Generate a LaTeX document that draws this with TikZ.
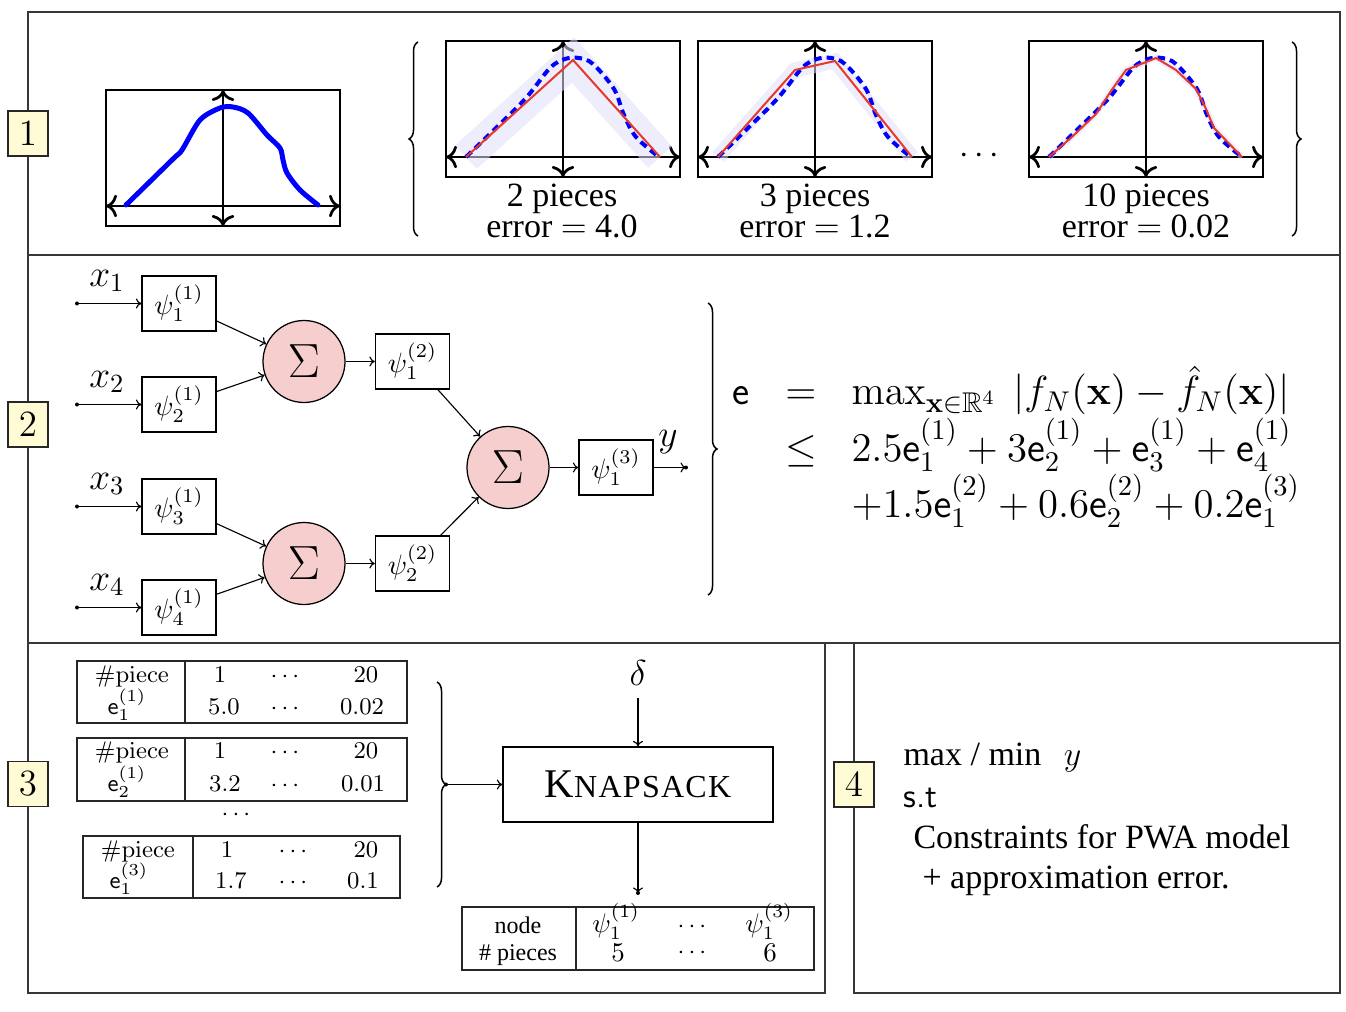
\RequirePackage{fix-cm}
\documentclass[tikz,border=0pt]{standalone}
\usepackage{amsmath,amssymb}
\usepackage[no-math]{fontspec}
\setmainfont{Liberation Serif}
\usetikzlibrary{arrows.meta,decorations.pathreplacing}
\definecolor{labelyellow}{RGB}{255,251,212}
\definecolor{sumpink}{RGB}{246,206,206}
\definecolor{bandcol}{RGB}{222,222,250}
\definecolor{pwared}{RGB}{232,56,43}
\definecolor{framegray}{RGB}{55,55,55}
\newcommand{\esf}{\mathsf{e}}
\newcommand{\plotframe}{%
  \draw[plotbox] (0,0) rectangle (234,136);
  \draw[plotaxis] (0,116) -- (234,116);
  \draw[plotaxis] (117,0) -- (117,136);}
\newcommand{\dashcurve}{%
  \draw[dashfn] plot[smooth,tension=0.55] coordinates {(20,116) (50,87) (80,57) (104,27) (119,18) (133,17) (147,23) (168,48) (178,74) (190,96) (213,116)};}
\tikzset{
  bigtip/.tip={Computer Modern Rightarrow[width=9pt,length=4.4pt]},
  smalltip/.tip={Computer Modern Rightarrow[width=4pt,length=2.2pt]},
  panelframe/.style={draw=framegray, line width=0.6pt},
  numlab/.style={draw=black!85, fill=labelyellow, line width=0.45pt, minimum width=16pt, minimum height=18pt, inner sep=0pt, font=\fontsize{14.8}{16}\selectfont},
  plotbox/.style={draw=black, line width=0.5pt},
  plotaxis/.style={line width=1.1pt, bigtip-bigtip},
  truefn/.style={draw=blue, line width=2pt, line cap=round, line join=round},
  dashfn/.style={draw=blue, line width=1.6pt, dash pattern=on 3pt off 2pt},
  pwaline/.style={draw=pwared, line width=0.8pt, line join=miter},
  errband/.style={draw=bandcol, draw opacity=0.55, line join=miter, miter limit=4, line width=#1},
  captxt/.style={inner sep=0pt, font=\fontsize{13.6}{16}\selectfont},
  vartxt/.style={inner sep=0pt, font=\fontsize{15}{17}\selectfont},
  eqtxt/.style={inner sep=0pt, font=\fontsize{16.3}{19}\selectfont},
  tabtxt/.style={inner sep=0pt, font=\fontsize{9.6}{11}\selectfont},
  psitxt/.style={inner sep=0pt, font=\fontsize{10.8}{12}\selectfont},
  bracestyle/.style={draw=black, line width=0.6pt, decorate},
  psibox/.style={draw, line width=0.5pt, minimum width=29.6pt, minimum height=22pt, inner sep=0pt, font=\fontsize{11.2}{12}\selectfont},
  sumnode/.style={circle, draw, fill=sumpink, line width=0.5pt, minimum size=32.8pt, inner sep=0pt, font=\fontsize{19.2}{20}\selectfont},
  netarrow/.style={line width=0.45pt, -smalltip},
  tabframe/.style={draw=black!85, line width=0.5pt},
  kbox/.style={draw, line width=0.5pt, minimum width=108pt, minimum height=30pt, inner sep=0pt},
}
\begin{document}
\begin{tikzpicture}[x=0.4pt, y=-0.4pt]
\useasboundingbox (0,0) rectangle (1346,1012);
% ---------- panel frames
\draw[panelframe] (28,12) rectangle (1340,255);
\draw[panelframe] (28,255) rectangle (1340,643);
\draw[panelframe] (28,643) rectangle (825,993);
\draw[panelframe] (854,643) rectangle (1340,993);

% ---------- panel 1
\begin{scope}[shift={(106,90)}]
  \plotframe
  \draw[truefn] plot[smooth, tension=0.5] coordinates {(20,115) (67,69) (76,60) (94,30) (114,18) (127,17) (142,23) (161,45) (174,58) (177,70) (181,83) (194,100) (212,115)};
\end{scope}
\begin{scope}[shift={(446,41)}]
  \plotframe
  \draw[errband=12.8pt] (20,116) -- (127,19) -- (214,116);
  \dashcurve
  \draw[pwaline] (20,116) -- (127,19) -- (214,116);
\end{scope}
\begin{scope}[shift={(698,41)}]
  \plotframe
  \draw[errband=6pt] (20,116) -- (97,29) -- (137,20) -- (214,116);
  \dashcurve
  \draw[pwaline] (20,116) -- (97,29) -- (137,20) -- (214,116);
\end{scope}
\begin{scope}[shift={(1029,41)}]
  \plotframe
  \draw[errband=2.4pt] (20,116) -- (45,94) -- (67,73) -- (82,50) -- (97,29) -- (127,17) -- (147,29) -- (167,48) -- (177,68) -- (185,87) -- (213,116);
  \dashcurve
  \draw[pwaline] (20,116) -- (45,94) -- (67,73) -- (82,50) -- (97,29) -- (127,17) -- (147,29) -- (167,48) -- (177,68) -- (185,87) -- (213,116);
\end{scope}
\node[captxt, anchor=base] (c2a) at (562,207) {2 pieces};
\node[captxt, anchor=base] (c2b) at (562,238) {error $=$ 4.0};
\node[captxt, anchor=base] (c3a) at (815,207) {3 pieces};
\node[captxt, anchor=base] (c3b) at (815,238) {error $=$ 1.2};
\node[captxt, anchor=base] (c4a) at (1146,207) {10 pieces};
\node[captxt, anchor=base] (c4b) at (1146,238) {error $=$ 0.02};
\node[captxt] (dots1) at (982,156) {$\cdots$};
\draw[bracestyle, decoration={brace, amplitude=3.6pt}] (418,236) -- (418,42);
\draw[bracestyle, decoration={brace, amplitude=3.6pt}] (1292,42) -- (1292,236);

% ---------- panel 2
\node[psibox] (p11) at (179,303.5) {$\psi_1^{(1)}$};
\node[psibox] (p21) at (179,404.5) {$\psi_2^{(1)}$};
\node[psibox] (p31) at (179,506.5) {$\psi_3^{(1)}$};
\node[psibox] (p41) at (179,607.5) {$\psi_4^{(1)}$};
\node[sumnode] (s1) at (304,361.5) {$\Sigma$};
\node[sumnode] (s2) at (304,563.5) {$\Sigma$};
\node[sumnode] (s3) at (508,467.5) {$\Sigma$};
\node[psibox] (p12) at (412.5,361.5) {$\psi_1^{(2)}$};
\node[psibox] (p22) at (412.5,563.5) {$\psi_2^{(2)}$};
\node[psibox] (p13) at (616,467.5) {$\psi_1^{(3)}$};
\coordinate (in1) at (77,303.5);
\coordinate (in2) at (77,404.5);
\coordinate (in3) at (77,506.5);
\coordinate (in4) at (77,607.5);
\coordinate (out) at (686,467.5);
\draw[netarrow] (in1) -- (p11.west);
\draw[netarrow] (in2) -- (p21.west);
\draw[netarrow] (in3) -- (p31.west);
\draw[netarrow] (in4) -- (p41.west);
\foreach \n in {in1,in2,in3,in4,out} \fill (\n) circle (0.8pt);
\foreach \n in {p11,p21,p31,p41} \fill (\n.west) circle (0.6pt);
\node[vartxt] (xl1) at (107,281) {$x_1$};
\node[vartxt] (xl2) at (107,382) {$x_2$};
\node[vartxt] (xl3) at (107,484) {$x_3$};
\node[vartxt] (xl4) at (107,585) {$x_4$};
\draw[netarrow] (p11) -- (s1);
\draw[netarrow] (p21) -- (s1);
\draw[netarrow] (p31) -- (s2);
\draw[netarrow] (p41) -- (s2);
\draw[netarrow] (s1) -- (p12);
\draw[netarrow] (s2) -- (p22);
\draw[netarrow] (p12) -- (s3);
\draw[netarrow] (p22) -- (s3);
\draw[netarrow] (s3) -- (p13);
\draw[netarrow] (p13) -- (out);
\node[vartxt] (ylab) at (668,442) {$y$};

\draw[bracestyle, decoration={brace, amplitude=3.6pt}] (708,303) -- (708,595);
\node[eqtxt, anchor=base] (eqe) at (741,405) {\sffamily e};
\node[eqtxt, anchor=base] (eqeq) at (801,405) {$=$};
\node[eqtxt, anchor=base west] (eqr1) at (851,405) {$\max_{\mathbf{x}\in\mathbb{R}^4}\ |f_N(\mathbf{x})-\hat{f}_N(\mathbf{x})|$};
\node[eqtxt, anchor=base] (eqle) at (801,461) {$\leq$};
\node[eqtxt, anchor=base west] (eqr2) at (851,461) {$2.5\esf_1^{(1)}+3\esf_2^{(1)}+\esf_3^{(1)}+\esf_4^{(1)}$};
\node[eqtxt, anchor=base west] (eqr3) at (851,517) {${+}1.5\esf_1^{(2)}+0.6\esf_2^{(2)}+0.2\esf_1^{(3)}$};

% ---------- panel 3
\draw[tabframe] (77,661) rectangle (407,723);
\draw[tabframe] (185,661) -- (185,723);
\node[tabtxt, anchor=base] (t1a) at (132,682) {$\mathrm{\#piece}$};
\node[tabtxt, anchor=base] (t1b) at (220,682) {$1$};
\node[tabtxt, anchor=base] (t1c) at (287,682) {$\cdots$};
\node[tabtxt, anchor=base] (t1d) at (366,682) {$20$};
\node[tabtxt, anchor=base] (t1e) at (127,714) {$\esf_1^{(1)}$};
\node[tabtxt, anchor=base] (t1f) at (224,714) {$5.0$};
\node[tabtxt, anchor=base] (t1g) at (287,714) {$\cdots$};
\node[tabtxt, anchor=base] (t1h) at (362,714) {$0.02$};

\draw[tabframe] (77,738) rectangle (407,801);
\draw[tabframe] (185,738) -- (185,801);
\node[tabtxt, anchor=base] (t2a) at (132,758) {$\mathrm{\#piece}$};
\node[tabtxt, anchor=base] (t2b) at (220,758) {$1$};
\node[tabtxt, anchor=base] (t2c) at (287,758) {$\cdots$};
\node[tabtxt, anchor=base] (t2d) at (366,758) {$20$};
\node[tabtxt, anchor=base] (t2e) at (127,791) {$\esf_2^{(1)}$};
\node[tabtxt, anchor=base] (t2f) at (225,791) {$3.2$};
\node[tabtxt, anchor=base] (t2g) at (287,791) {$\cdots$};
\node[tabtxt, anchor=base] (t2h) at (363,791) {$0.01$};

\node[tabtxt] (tdots) at (238,815) {$\cdots$};

\draw[tabframe] (83,836) rectangle (400,898);
\draw[tabframe] (193,836) -- (193,898);
\node[tabtxt, anchor=base] (t3a) at (138,857) {$\mathrm{\#piece}$};
\node[tabtxt, anchor=base] (t3b) at (227,857) {$1$};
\node[tabtxt, anchor=base] (t3c) at (295,857) {$\cdots$};
\node[tabtxt, anchor=base] (t3d) at (366,857) {$20$};
\node[tabtxt, anchor=base] (t3e) at (129,888) {$\esf_1^{(3)}$};
\node[tabtxt, anchor=base] (t3f) at (231,888) {$1.7$};
\node[tabtxt, anchor=base] (t3g) at (295,888) {$\cdots$};
\node[tabtxt, anchor=base] (t3h) at (363,888) {$0.1$};

\draw[bracestyle, decoration={brace, amplitude=3.6pt}] (437,682) -- (437,887);
\coordinate (btip) at (446,784.5);
\node[kbox] (knap) at (638,784.5) {{\fontsize{16.3}{18}\selectfont K\fontsize{12.8}{14}\selectfont\addfontfeature{LetterSpace=4}NAPSACK}};
\node[inner sep=0pt, font=\fontsize{14.4}{16}\selectfont] (delta) at (638,673) {$\delta$};
\coordinate (kout) at (638,893);
\draw[netarrow, shorten <=4.6pt] (delta) -- (knap.north);
\draw[netarrow] (btip) -- (knap.west);
\draw[netarrow] (knap.south) -- (kout);
\fill (btip) circle (0.8pt);
\fill (kout) circle (0.8pt);

\draw[tabframe] (462,907) rectangle (814,970);
\draw[tabframe] (576,907) -- (576,970);
\node[tabtxt, anchor=base] (b1) at (518,933) {node};
\node[tabtxt, anchor=base] (b2) at (518,960) {\# pieces};
\node[psitxt, anchor=base] (b3) at (616,932) {$\psi_1^{(1)}$};
\node[tabtxt, anchor=base] (b4) at (694,932) {$\cdots$};
\node[psitxt, anchor=base] (b5) at (769,932) {$\psi_1^{(3)}$};
\node[psitxt, anchor=base] (b6) at (618,961) {$5$};
\node[tabtxt, anchor=base] (b7) at (694,958) {$\cdots$};
\node[psitxt, anchor=base] (b8) at (770,961) {$6$};

% ---------- panel 4
\node[captxt, anchor=base west] (obj) at (903,765) {max / min\hspace{9pt}$y$};
\node[captxt, anchor=base west] (st) at (903,807) {\sffamily s.t};
\node[captxt, anchor=base west] (cons1) at (913,848) {Constraints for PWA model};
\node[captxt, anchor=base west] (cons2) at (922,888) {+ approximation error.};

% ---------- labels
\node[numlab] (L1) at (28,133.5) {$1$};
\node[numlab] (L2) at (28,424.5) {$2$};
\node[numlab] (L3) at (28,784) {$3$};
\node[numlab] (L4) at (854,784.5) {$4$};
\end{tikzpicture}
\end{document}
